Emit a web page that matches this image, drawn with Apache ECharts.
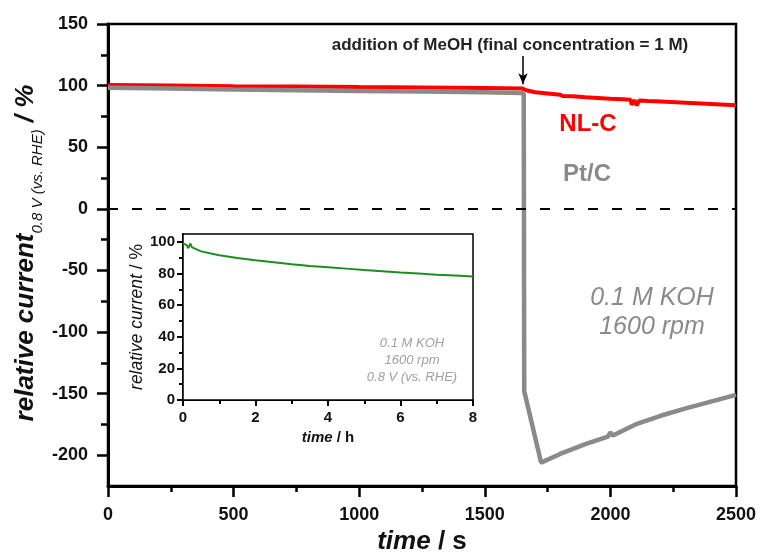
<!DOCTYPE html>
<html>
<head>
<meta charset="utf-8">
<script src="https://cdn.jsdelivr.net/npm/echarts@6/dist/echarts.min.js"></script>
<style>
html, body { margin: 0; padding: 0; background: #fff; }
#main { width: 760px; height: 554px; }
</style>
</head>
<body>
<div id="main"></div>
<script>
// NL-C (red) trace, time in s, relative current in %
var nlcTime = [0, 250, 500, 750, 1000, 1250, 1500, 1650, 1665, 1700, 1750, 1800, 1810, 1850, 1900, 1950, 2000, 2050, 2080, 2085, 2095, 2105, 2115, 2150, 2200, 2300, 2400, 2500];
var nlcValue = [100.5, 100, 99.5, 99.2, 98.8, 98.5, 98.1, 97.6, 96.2, 94.6, 93.6, 92.6, 91.5, 91.4, 90.6, 90, 89.4, 88.9, 88.5, 84.5, 88.2, 84, 88, 87.5, 87, 86, 85, 84];
// Pt/C (grey) trace
var ptcTime = [0, 250, 500, 750, 1000, 1250, 1500, 1645, 1655, 1657, 1724, 1800, 1900, 1990, 2000, 2010, 2100, 2200, 2300, 2400, 2500];
var ptcValue = [98.3, 97.6, 96.8, 96.2, 95.7, 95.2, 94.6, 94, 93.5, -148, -206, -199, -191, -185, -181.5, -184, -175, -168, -162, -156.5, -151];
// inset: long term stability of NL-C, time in h
var insetHours = [0, 0.1, 0.15, 0.2, 0.25, 0.5, 1, 1.5, 2, 2.5, 3, 3.5, 4, 4.5, 5, 5.5, 6, 6.5, 7, 7.5, 8];
var insetValue = [99, 98, 96, 99, 96.5, 94, 91.5, 89.8, 88.4, 87.2, 85.9, 84.8, 84, 83.1, 82.2, 81.4, 80.6, 80, 79.3, 78.7, 78.1];

var mainYTicks = [-200, -150, -100, -50, 0, 50, 100, 150];
var mainYMinor = [-175, -125, -75, -25, 25, 75, 125];
var insetYTicks = [0, 20, 40, 60, 80, 100];
var insetYMinor = [10, 30, 50, 70, 90];

var FONT = 'Liberation Sans';

function pairs(xs, ys) {
    var out = [];
    for (var i = 0; i < xs.length; i++) {
        out.push([xs[i], ys[i]]);
    }
    return out;
}

// plain numbers, no thousands separator
function plain(v) {
    return String(v);
}

var chart = echarts.init(document.getElementById('main'), null, { renderer: 'canvas' });

var option = {
    animation: false,
    backgroundColor: '#fff',
    grid: [
        { left: 108, top: 24, right: 24, bottom: 68, outerBoundsMode: 'none', containLabel: false, show: true, borderColor: '#000', borderWidth: 2.5 },
        { left: 183, top: 234, width: 290, height: 166, outerBoundsMode: 'none', containLabel: false, show: true, borderColor: '#000', borderWidth: 1.5, backgroundColor: '#fff', z: 5 }
    ],
    xAxis: [
        {
            gridIndex: 0, type: 'value', min: 0, max: 2500, interval: 500,
            axisLine: { onZero: false, lineStyle: { color: '#000', width: 3 } },
            axisTick: { length: 11, lineStyle: { width: 2.5, color: '#000' } },
            minorTick: { show: true, splitNumber: 2, length: 6, lineStyle: { width: 2.5, color: '#000' } },
            axisLabel: { margin: 20, formatter: plain, fontFamily: FONT, fontWeight: 'bold', fontSize: 18, color: '#111' },
            splitLine: { show: false },
            name: '{a|time}{b| / s}', nameLocation: 'middle', nameGap: 43,
            nameTextStyle: {
                rich: {
                    a: { fontFamily: FONT, fontWeight: 'bold', fontStyle: 'italic', fontSize: 26, color: '#111' },
                    b: { fontFamily: FONT, fontWeight: 'bold', fontSize: 26, color: '#111' }
                }
            }
        },
        {
            gridIndex: 1, type: 'value', min: 0, max: 8, interval: 2,
            axisLine: { onZero: false, lineStyle: { color: '#000', width: 2 } },
            axisTick: { length: 6, lineStyle: { width: 2, color: '#000' } },
            minorTick: { show: true, splitNumber: 2, length: 4, lineStyle: { width: 2, color: '#000' } },
            axisLabel: { margin: 10, formatter: plain, fontFamily: FONT, fontWeight: 'bold', fontSize: 15, color: '#111' },
            splitLine: { show: false },
            name: '{a|time}{b| / h}', nameLocation: 'middle', nameGap: 30,
            nameTextStyle: {
                rich: {
                    a: { fontFamily: FONT, fontWeight: 'bold', fontStyle: 'italic', fontSize: 15, color: '#111' },
                    b: { fontFamily: FONT, fontWeight: 'bold', fontSize: 15, color: '#111' }
                }
            }
        }
    ],
    yAxis: [
        {
            gridIndex: 0, type: 'value', min: -225, max: 150,
            axisLine: { show: true, onZero: false, lineStyle: { color: '#000', width: 3 } },
            axisTick: { show: true, length: 11, customValues: mainYTicks, lineStyle: { width: 2.5, color: '#000' } },
            axisLabel: { margin: 20, customValues: mainYTicks, formatter: plain, fontFamily: FONT, fontWeight: 'bold', fontSize: 18, color: '#111' },
            splitLine: { show: false }
        },
        {
            // minor ticks only
            gridIndex: 0, type: 'value', min: -225, max: 150, position: 'left', offset: 0,
            axisLine: { show: false, onZero: false },
            axisTick: { show: true, length: 7, customValues: mainYMinor, lineStyle: { width: 2.5, color: '#000' } },
            axisLabel: { show: false },
            splitLine: { show: false }
        },
        {
            gridIndex: 1, type: 'value', min: 0, max: 105,
            axisLine: { show: true, onZero: false, lineStyle: { color: '#000', width: 2 } },
            axisTick: { show: true, length: 6, customValues: insetYTicks, lineStyle: { width: 2, color: '#000' } },
            axisLabel: { margin: 8, customValues: insetYTicks, formatter: plain, fontFamily: FONT, fontWeight: 'bold', fontSize: 15, color: '#111' },
            splitLine: { show: false },
            name: '{a|relative current}{b| / %}', nameLocation: 'middle', nameGap: 36, nameRotate: 90,
            nameTextStyle: {
                rich: {
                    a: { fontFamily: FONT, fontStyle: 'italic', fontSize: 17.5, color: '#111' },
                    b: { fontFamily: FONT, fontSize: 17.5, color: '#111' }
                }
            }
        },
        {
            gridIndex: 1, type: 'value', min: 0, max: 105, position: 'left', offset: 0,
            axisLine: { show: false, onZero: false },
            axisTick: { show: true, length: 4, customValues: insetYMinor, lineStyle: { width: 2, color: '#000' } },
            axisLabel: { show: false },
            splitLine: { show: false }
        }
    ],
    graphic: [
        {
            type: 'text', x: 29, y: 253, rotation: Math.PI / 2, z: 10,
            style: {
                text: '{a|relative current}{b|0.8 V (vs. RHE)}{c| / %}',
                align: 'center', verticalAlign: 'middle',
                rich: {
                    a: { fontFamily: FONT, fontWeight: 'bold', fontStyle: 'italic', fontSize: 26, lineHeight: 32, fill: '#111', verticalAlign: 'top' },
                    b: { fontFamily: FONT, fontStyle: 'italic', fontSize: 15, lineHeight: 18, fill: '#111', verticalAlign: 'bottom' },
                    c: { fontFamily: FONT, fontWeight: 'bold', fontStyle: 'italic', fontSize: 26, lineHeight: 32, fill: '#111', verticalAlign: 'top' }
                }
            }
        },
        {
            type: 'text', x: 510, y: 45, z: 10,
            style: { text: 'addition of MeOH (final concentration = 1 M)', font: 'bold 17px "Liberation Sans"', fill: '#222', align: 'center', verticalAlign: 'middle' }
        },
        {
            type: 'text', x: 588, y: 124, z: 10,
            style: { text: 'NL-C', font: 'bold 24px "Liberation Sans"', fill: '#ff0000', align: 'center', verticalAlign: 'middle' }
        },
        {
            type: 'text', x: 587, y: 174, z: 10,
            style: { text: 'Pt/C', font: 'bold 24px "Liberation Sans"', fill: '#8a8a8a', align: 'center', verticalAlign: 'middle' }
        },
        {
            type: 'text', x: 652, y: 313, z: 10,
            style: { text: '0.1 M KOH\n1600 rpm', font: 'italic 25px "Liberation Sans"', lineHeight: 29, fill: '#8a8a8a', align: 'center', verticalAlign: 'middle' }
        },
        {
            type: 'text', x: 412, y: 360, z: 10,
            style: { text: '0.1 M KOH\n1600 rpm\n0.8 V (vs. RHE)', font: 'italic 13px "Liberation Sans"', lineHeight: 17, fill: '#a0a0a0', align: 'center', verticalAlign: 'middle' }
        }
    ],
    series: [
        {
            name: 'NL-C', type: 'line', xAxisIndex: 0, yAxisIndex: 0,
            data: pairs(nlcTime, nlcValue),
            showSymbol: false, symbol: 'none',
            lineStyle: { color: '#ff0000', width: 4 },
            markLine: {
                silent: true, animation: false,
                label: { show: false },
                data: [
                    [{ coord: [1652, 124], symbol: 'none' }, { coord: [1652, 101], symbol: 'arrow', symbolSize: [7, 11] }]
                ],
                lineStyle: { color: '#000', width: 1.5, type: 'solid' }
            }
        },
        {
            name: 'Pt/C', type: 'line', xAxisIndex: 0, yAxisIndex: 0,
            data: pairs(ptcTime, ptcValue),
            showSymbol: false, symbol: 'none',
            lineStyle: { color: '#8a8a8a', width: 4.5 },
            markLine: {
                silent: true, animation: false, symbol: ['none', 'none'],
                label: { show: false },
                data: [{ yAxis: 0 }],
                lineStyle: { color: '#000', width: 2, type: [10, 14] }
            }
        },
        {
            name: 'inset', type: 'line', xAxisIndex: 1, yAxisIndex: 2,
            data: pairs(insetHours, insetValue),
            showSymbol: false, symbol: 'none', z: 6,
            lineStyle: { color: '#1e8c1e', width: 2 }
        }
    ]
};

chart.setOption(option);
</script>
</body>
</html>
